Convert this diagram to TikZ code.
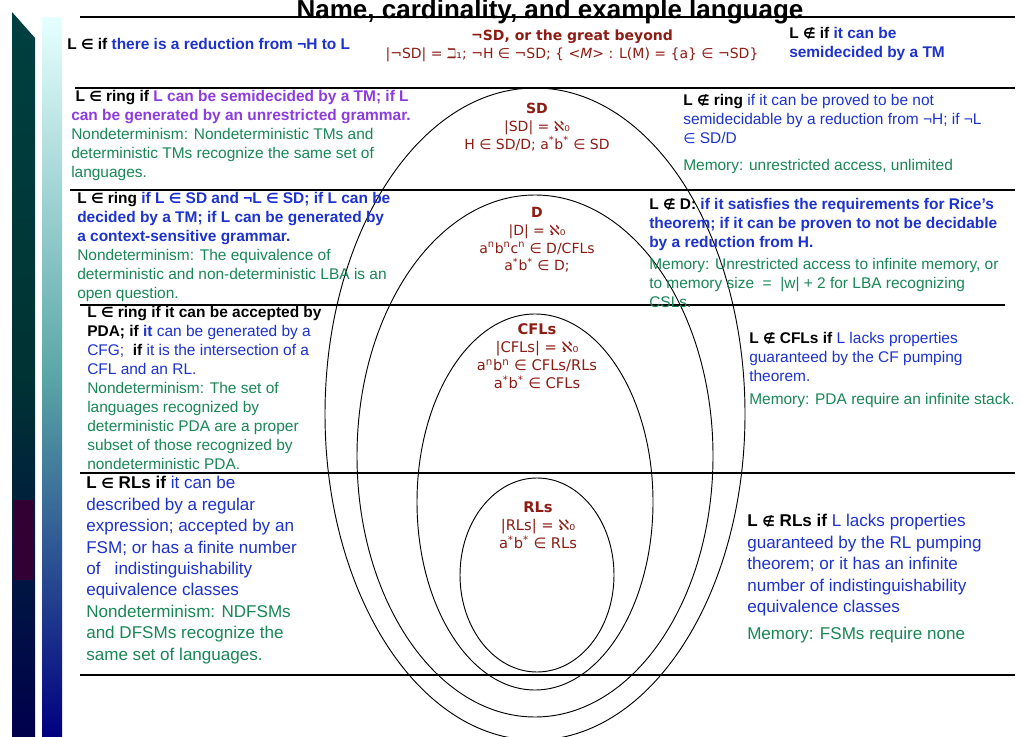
\documentclass[tikz,border=0pt]{standalone}
\usepackage{fontspec}
\setmainfont{Liberation Sans}
\newfontfamily\vfont{DejaVu Sans}
\newcommand{\IN}{{\vfont\fontsize{10.5}{10}\selectfont ∈}}
\newcommand{\NIN}{{\vfont\fontsize{10.5}{10}\selectfont ∉}}
\definecolor{dred}{RGB}{140,28,20}
\definecolor{tblue}{RGB}{30,50,205}
\definecolor{tpurp}{RGB}{140,60,225}
\definecolor{tgreen}{RGB}{25,135,85}
\newcommand{\kb}[1]{\textbf{#1}}
\newcommand{\bb}[1]{\textcolor{tblue}{\textbf{#1}}}
\newcommand{\bl}[1]{\textcolor{tblue}{#1}}
\newcommand{\gr}[1]{\textcolor{tgreen}{#1}}
\begin{document}
\begin{tikzpicture}[x=0.75pt,y=-0.75pt,
  txt/.style={anchor=north west,inner sep=0,align=left,font=\fontsize{11.6}{14.25}\selectfont},
  big/.style={anchor=north west,inner sep=0,align=left,font=\fontsize{12.8}{16.1}\selectfont},
  ctr/.style={inner sep=0,align=center,text=dred,font=\vfont\fontsize{10.5}{13.3}\selectfont},
  rule/.style={black,line width=0.8pt},
  ell/.style={black,line width=0.7pt}]
\useasboundingbox (0,0) rectangle (1020,737);
\fill[white] (0,0) rectangle (1020,737);
% decorative strips
\shade[top color=teal!50!black,bottom color=blue!30!black,middle color=teal!40!black] (12,12)--(35,38)--(35,737)--(12,737)--cycle;
\fill[violet!40!black] (14,500) rectangle (34,580);
\shade[top color=cyan!10,bottom color=blue!50!black,middle color=cyan!30!gray] (42,18) rectangle (62,737);
% rules
\draw[rule] (80,17)--(1015,17);
\draw[rule] (75,88)--(1015,88);
\draw[rule] (70,190)--(1015,190);
\draw[rule] (80,305)--(1005,305);
\draw[rule] (80,473)--(1015,473);
\draw[rule] (80,675)--(1015,675);
% ellipses
\draw[ell] (535,414) ellipse [x radius=210,y radius=326];
\draw[ell] (535,456) ellipse [x radius=178,y radius=261];
\draw[ell] (535,502) ellipse [x radius=118,y radius=188];
\draw[ell] (537,575) ellipse [x radius=77,y radius=97];
% title
\node[inner sep=0,font=\bfseries\fontsize{19.5}{20}\selectfont] (title) at (550,12) {Name, cardinality, and example language};
% center texts
\node[ctr] (beyond) at (572,46) {\textbf{¬SD, or the great beyond}\\|¬SD| = ℶ₁; ¬H ∈ ¬SD; \{ <\textit{M}> : L(M) = \{a\} ∈ ¬SD\}};
\node[ctr] (sd) at (537,127) {\textbf{SD}\\|SD| = ℵ₀\\H ∈ SD/D;  a\textsuperscript{*}b\textsuperscript{*} ∈ SD};
\node[ctr] (d) at (537,240) {\textbf{D}\\|D| = ℵ₀\\a\textsuperscript{n}b\textsuperscript{n}c\textsuperscript{n} ∈ D/CFLs\\a\textsuperscript{*}b\textsuperscript{*} ∈ D;};
\node[ctr,font=\vfont\fontsize{11}{13.6}\selectfont] (cfl) at (537,356) {\textbf{CFLs}\\|CFLs| = ℵ₀\\a\textsuperscript{n}b\textsuperscript{n} ∈ CFLs/RLs\\a\textsuperscript{*}b\textsuperscript{*} ∈ CFLs};
\node[ctr,font=\vfont\fontsize{11}{13.6}\selectfont] (rl) at (538,525) {\textbf{RLs}\\|RLs| = ℵ₀\\a\textsuperscript{*}b\textsuperscript{*} ∈ RLs};
% side texts
\node[txt] (t1) at (67,38) {\kb{L \IN{} if} \bb{there is a reduction from ¬H to L}};
\node[txt] (t2) at (789,27) {\kb{L \NIN{} if} \bb{it can be}\\\bb{semidecided by a TM}};
\node[txt] (t3) at (71,90) {\kb{\ L \IN{} ring if} \textcolor{tpurp}{\textbf{L can be semidecided by a TM; if L}}\\\textcolor{tpurp}{\textbf{can be generated by an unrestricted grammar.}}\\\gr{Nondeterminism: Nondeterministic TMs and}\\\gr{deterministic TMs recognize the same set of}\\\gr{languages.}};
\node[txt] (t4) at (683,94) {\kb{L \NIN{} ring} \bl{if it can be proved to be not}\\\bl{semidecidable by a reduction from ¬H; if ¬L}\\\bl{\IN{} SD/D}\\[6pt]\gr{Memory: unrestricted access, unlimited}};
\node[txt] (t5) at (77,192) {\kb{L \IN{} ring} \bb{if L \IN{} SD and ¬L \IN{} SD; if L can be}\\\bb{decided by a TM; if L can be generated by}\\\bb{a context-sensitive grammar.}\\\gr{Nondeterminism: The equivalence of}\\\gr{deterministic and non-deterministic LBA is an}\\\gr{open question.}};
\node[txt] (t6) at (649,198) {\kb{L \NIN{} D:} \bb{if it satisfies the requirements for Rice's}\\\bb{theorem; if it can be proven to not be decidable}\\\bb{by a reduction from H.}\\[2pt]\gr{Memory: Unrestricted access to infinite memory, or}\\\gr{to memory size\ \ =\ \ |w| + 2 for LBA recognizing}\\\gr{CSLs.}};
\node[txt] (t7) at (87,306) {\kb{L \IN{} ring if it can be accepted by}\\\kb{PDA; if} \bb{it} \bl{can be generated by a}\\\bl{CFG;\ } \kb{if} \bl{it is the intersection of a}\\\bl{CFL and\ an RL.}\\\gr{Nondeterminism: The set of}\\\gr{languages recognized by}\\\gr{deterministic PDA are a proper}\\\gr{subset of those recognized by}\\\gr{nondeterministic PDA.}};
\node[txt] (t8) at (749,332) {\kb{L \NIN{} CFLs if} \bl{L lacks\ properties}\\\bl{guaranteed by the CF pumping}\\\bl{theorem.}\\[3pt]\gr{Memory: PDA require an infinite stack.}};
\node[big] (t9) at (86,476) {\kb{L \IN{} RLs if} \bl{it can be}\\\bl{described by a regular}\\\bl{expression; accepted by an}\\\bl{FSM; or has a finite number}\\\bl{of\ \ \ indistinguishability}\\\bl{equivalence classes}\\\gr{Nondeterminism: NDFSMs}\\\gr{and DFSMs recognize the}\\\gr{same set of languages.}};
\node[big] (t10) at (747,514) {\kb{L \NIN{} RLs if} \bl{L lacks\ properties}\\\bl{guaranteed by the RL pumping}\\\bl{theorem; or it has an infinite}\\\bl{number of indistinguishability}\\\bl{equivalence classes}\\[4pt]\gr{Memory: FSMs require none}};
\end{tikzpicture}
\end{document}
